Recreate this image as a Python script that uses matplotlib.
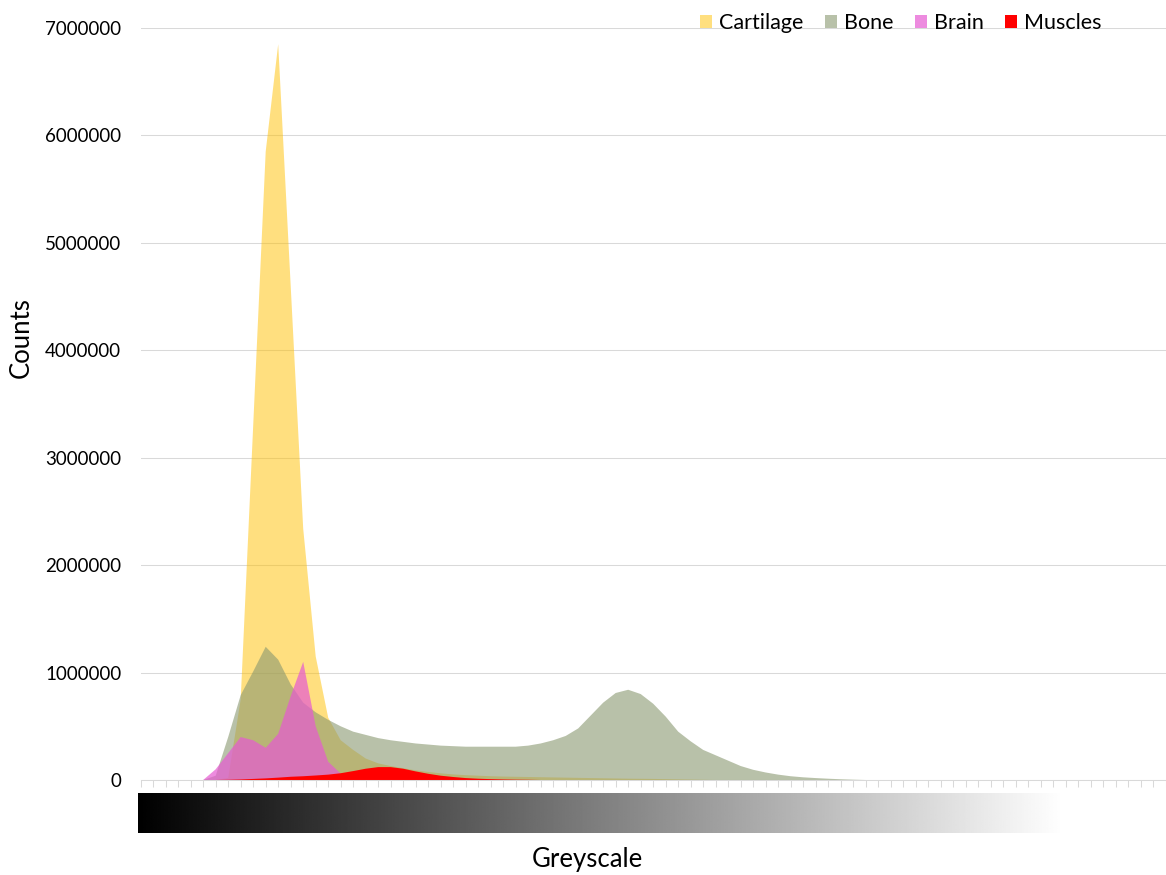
import numpy as np
import matplotlib
matplotlib.use("Agg")
import matplotlib.pyplot as plt
from matplotlib.patches import Patch

plt.rcParams['font.family'] = ['Lato', 'DejaVu Sans']

# Histogram counts per greyscale bin (83 bins)
series_names = ["Cartilage", "Bone", "Brain", "Muscles"]

cartilage = [
    0, 0, 0, 0, 0, 0, 0, 20000, 750000, 3300000,
    5850000, 6850000, 4600000, 2340000, 1150000, 580000, 370000, 280000, 200000, 155000,
    130000, 110000, 90000, 75000, 62000, 52000, 45000, 40000, 35000, 32000,
    30000, 28000, 26000, 24000, 22000, 20000, 18000, 16000, 14000, 12000,
    11000, 10000, 8000, 6000, 4000, 2000, 0, 0, 0, 0,
    0, 0, 0, 0, 0, 0, 0, 0, 0, 0,
    0, 0, 0, 0, 0, 0, 0, 0, 0, 0,
    0, 0, 0, 0, 0, 0, 0, 0, 0, 0,
    0, 0, 0,
]

bone = [
    0, 0, 0, 0, 0, 0, 40000, 400000, 790000, 1010000,
    1240000, 1120000, 890000, 720000, 630000, 560000, 500000, 450000, 420000, 390000,
    370000, 355000, 340000, 330000, 320000, 315000, 310000, 310000, 310000, 310000,
    310000, 320000, 340000, 370000, 410000, 480000, 600000, 720000, 810000, 840000,
    800000, 710000, 590000, 450000, 360000, 280000, 230000, 180000, 130000, 95000,
    70000, 50000, 35000, 25000, 18000, 12000, 7000, 3000, 0, 0,
    0, 0, 0, 0, 0, 0, 0, 0, 0, 0,
    0, 0, 0, 0, 0, 0, 0, 0, 0, 0,
    0, 0, 0,
]

brain = [
    0, 0, 0, 0, 0, 0, 100000, 250000, 400000, 370000,
    300000, 430000, 780000, 1100000, 500000, 170000, 60000, 30000, 15000, 8000,
    4000, 0, 0, 0, 0, 0, 0, 0, 0, 0,
    0, 0, 0, 0, 0, 0, 0, 0, 0, 0,
    0, 0, 0, 0, 0, 0, 0, 0, 0, 0,
    0, 0, 0, 0, 0, 0, 0, 0, 0, 0,
    0, 0, 0, 0, 0, 0, 0, 0, 0, 0,
    0, 0, 0, 0, 0, 0, 0, 0, 0, 0,
    0, 0, 0,
]

muscles = [
    0, 0, 0, 0, 0, 0, 0, 2000, 5000, 10000,
    15000, 22000, 30000, 35000, 42000, 50000, 63000, 83000, 105000, 120000,
    120000, 105000, 80000, 58000, 40000, 28000, 18000, 12000, 8000, 5000,
    3000, 2000, 0, 0, 0, 0, 0, 0, 0, 0,
    0, 0, 0, 0, 0, 0, 0, 0, 0, 0,
    0, 0, 0, 0, 0, 0, 0, 0, 0, 0,
    0, 0, 0, 0, 0, 0, 0, 0, 0, 0,
    0, 0, 0, 0, 0, 0, 0, 0, 0, 0,
    0, 0, 0,
]

y_ticks = [0, 1000000, 2000000, 3000000, 4000000, 5000000, 6000000, 7000000]

# fill colour, alpha
styles = {
    "Cartilage": ((1.0, 0.753, 0.0), 0.5),
    "Bone": ((137 / 255, 152 / 255, 112 / 255), 0.6),
    "Brain": ((230 / 255, 90 / 255, 210 / 255), 0.7),
    "Muscles": ((1.0, 0.0, 0.0), 1.0),
}

W, H = 1166, 875
fig = plt.figure(figsize=(W / 100, H / 100), dpi=100)

ax_l, ax_r = 140.7, 1165.7
ax_top, ax_bot = 28, 780
ax = fig.add_axes([ax_l / W, (H - ax_bot) / H, (ax_r - ax_l) / W, (ax_bot - ax_top) / H])

x = np.arange(len(cartilage))
data = {"Cartilage": cartilage, "Bone": bone, "Brain": brain, "Muscles": muscles}
for name in series_names:
    col, a = styles[name]
    ax.fill_between(x, 0, data[name], facecolor=col, alpha=a, linewidth=0, zorder=2 + series_names.index(name))

ax.set_xlim(0, len(cartilage) - 1)
ax.set_ylim(0, 7000000)

grid_col = (217 / 255, 217 / 255, 217 / 255)
ax.set_yticks(y_ticks)
ax.set_yticklabels([str(v) for v in y_ticks])
ax.yaxis.grid(True, color=grid_col, linewidth=0.75, zorder=0)
ax.set_axisbelow(True)
ax.tick_params(axis='y', length=0, pad=14, labelsize=13.5, labelcolor='black')

ax.set_xticks(x)
ax.set_xticklabels([])
ax.tick_params(axis='x', direction='out', length=5, width=0.75, color=grid_col)

for side in ("left", "right", "top"):
    ax.spines[side].set_visible(False)
ax.spines["bottom"].set_color(grid_col)
ax.spines["bottom"].set_linewidth(0.75)
ax.spines["bottom"].set_zorder(10)

# greyscale gradient strip under the axis
gx0, gx1, gy0, gy1 = 138, 1063, 793, 833
gax = fig.add_axes([gx0 / W, (H - gy1) / H, (gx1 - gx0) / W, (gy1 - gy0) / H])
grad = np.linspace(0, 1, 512)[None, :]
gax.imshow(grad, cmap='gray', aspect='auto', vmin=0, vmax=1, interpolation='bilinear')
gax.set_axis_off()

fig.text(21 / W, 1 - 338 / H, "Counts", rotation=90, ha='center', va='center', fontsize=18.5)
fig.text(587 / W, 1 - 860 / H, "Greyscale", ha='center', va='center', fontsize=18.5)

handles = [Patch(facecolor=styles[n][0], alpha=styles[n][1], edgecolor='none', label=n) for n in series_names]
fig.legend(handles=handles, loc='upper right', bbox_to_anchor=(1102 / W, 1 - 13 / H), ncol=4, frameon=False,
           fontsize=15.5, handlelength=0.56, handleheight=0.56, handletextpad=0.33, columnspacing=1.0,
           borderaxespad=0, borderpad=0)

fig.savefig("out.png", dpi=100)
